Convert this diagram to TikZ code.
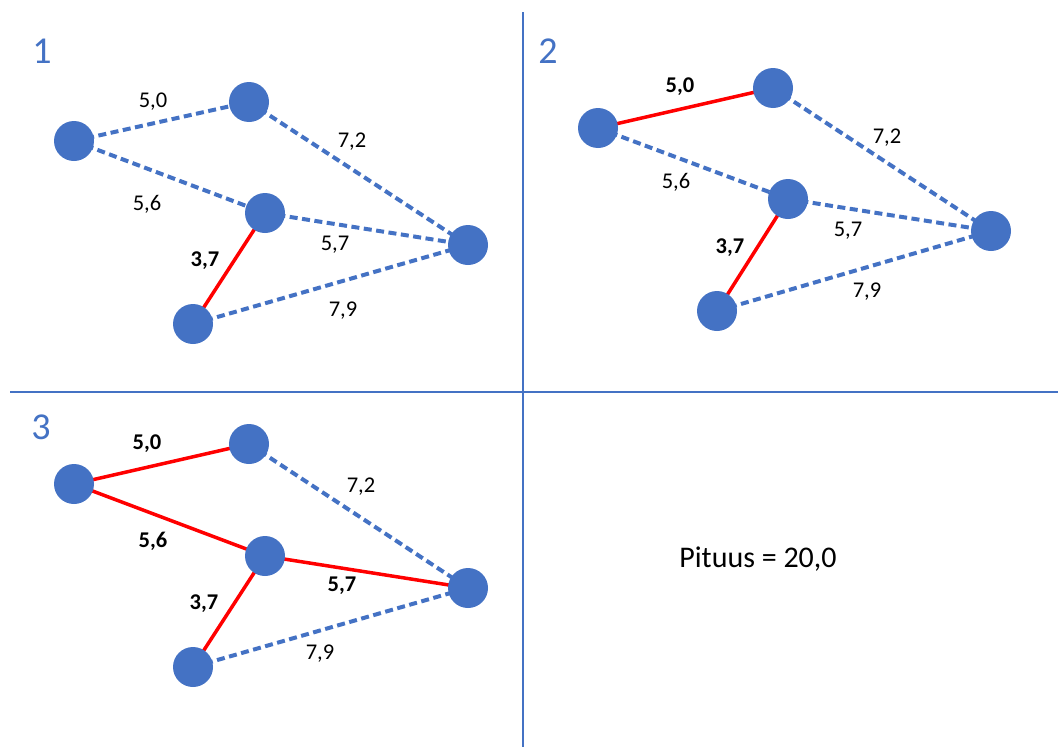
\documentclass[tikz,border=0pt]{standalone}
\usepackage{fontspec}
\setmainfont{Carlito}
\definecolor{ob}{HTML}{4472C4}
\begin{document}
\begin{tikzpicture}[x=1pt,y=-1pt,
 vtx/.style={circle,fill=ob,minimum size=40pt,inner sep=0pt},
 dsh/.style={draw=ob,line width=4pt,dash pattern=on 8pt off 4.5pt},
 sel/.style={draw=red,line width=3.5pt},
 lbl/.style={font=\fontsize{22.5}{26}\selectfont,inner sep=0pt},
 blbl/.style={font=\fontsize{22.5}{26}\selectfont\bfseries,inner sep=0pt},
 num/.style={text=ob,font=\fontsize{38}{42}\selectfont,inner sep=0pt},
 divline/.style={draw=ob,line width=1.5pt}]
\useasboundingbox (0,0) rectangle (1058,747);
% dividers
\coordinate (vt) at (523,12);
\coordinate (vb) at (523,747);
\coordinate (hl) at (10,392);
\coordinate (hr) at (1058,392);
\draw[divline] (vt) -- (vb);
\draw[divline] (hl) -- (hr);
% panel numbers
\node[num] (n1) at (42,51) {1};
\node[num] (n2) at (548,51) {2};
\node[num] (n3) at (41,427) {3};
% ---------- panel 1
\coordinate (a1) at (74,141);
\coordinate (b1) at (249,102);
\coordinate (c1) at (265,213);
\coordinate (d1) at (468,245);
\coordinate (e1) at (193,324);
\draw[dsh] (a1) -- (b1);
\draw[dsh] (b1) -- (d1);
\draw[dsh] (a1) -- (c1);
\draw[dsh] (c1) -- (d1);
\draw[dsh] (e1) -- (d1);
\draw[sel] (c1) -- (e1);
\foreach \p in {a1,b1,c1,d1,e1} \node[vtx] (v\p) at (\p) {};
\node[lbl] (l1ab) at (153,102) {5,0};
\node[lbl] (l1bd) at (352,142) {7,2};
\node[lbl] (l1ac) at (147,204) {5,6};
\node[lbl] (l1cd) at (335,245) {5,7};
\node[blbl] (l1ce) at (205,261) {3,7};
\node[lbl] (l1ed) at (343,311) {7,9};
% ---------- panel 2
\coordinate (a2) at (598,128);
\coordinate (b2) at (773,88);
\coordinate (c2) at (788,199);
\coordinate (d2) at (991,231);
\coordinate (e2) at (717,311);
\draw[dsh] (b2) -- (d2);
\draw[dsh] (a2) -- (c2);
\draw[dsh] (c2) -- (d2);
\draw[dsh] (e2) -- (d2);
\draw[sel] (a2) -- (b2);
\draw[sel] (c2) -- (e2);
\foreach \p in {a2,b2,c2,d2,e2} \node[vtx] (v\p) at (\p) {};
\node[blbl] (l2ab) at (680,87) {5,0};
\node[lbl] (l2bd) at (887,138) {7,2};
\node[lbl] (l2ac) at (676,182) {5,6};
\node[lbl] (l2cd) at (848,231) {5,7};
\node[blbl] (l2ce) at (730,248) {3,7};
\node[lbl] (l2ed) at (867,292) {7,9};
% ---------- panel 3
\coordinate (a3) at (74,484);
\coordinate (b3) at (249,444);
\coordinate (c3) at (265,556);
\coordinate (d3) at (468,588);
\coordinate (e3) at (193,667);
\draw[dsh] (b3) -- (d3);
\draw[dsh] (e3) -- (d3);
\draw[sel] (a3) -- (b3);
\draw[sel] (a3) -- (c3);
\draw[sel] (c3) -- (d3);
\draw[sel] (c3) -- (e3);
\foreach \p in {a3,b3,c3,d3,e3} \node[vtx] (v\p) at (\p) {};
\node[blbl] (l3ab) at (147,444) {5,0};
\node[lbl] (l3bd) at (361,487) {7,2};
\node[blbl] (l3ac) at (153,541) {5,6};
\node[blbl] (l3cd) at (342,586) {5,7};
\node[blbl] (l3ce) at (204,604) {3,7};
\node[lbl] (l3ed) at (320,654) {7,9};
% ---------- result
\node[font=\fontsize{30}{34}\selectfont,inner sep=0pt] (res) at (758,559) {Pituus = 20,0};
\end{tikzpicture}
\end{document}
